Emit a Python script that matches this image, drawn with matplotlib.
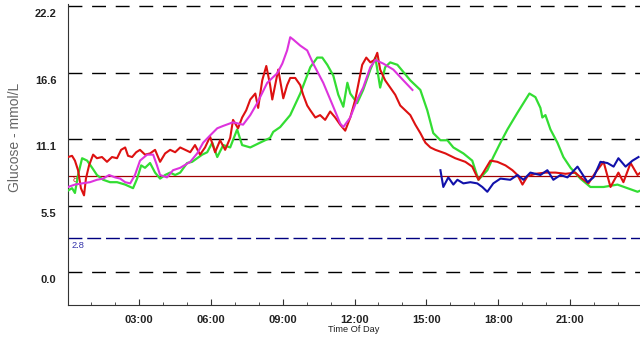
import matplotlib
matplotlib.use('Agg')
import matplotlib.pyplot as plt
import matplotlib.transforms as mtransforms
from matplotlib.ticker import MultipleLocator

plt.rcParams['font.family'] = ['Liberation Sans', 'DejaVu Sans']

# Datos (hora del día, glucosa mmol/L)
red_t = [0.02, 0.19, 0.31, 0.44, 0.56, 0.69, 0.77, 0.90, 1.07, 1.23, 1.44, 1.65, 1.86, 2.07,
         2.24, 2.41, 2.53, 2.70, 2.87, 3.03, 3.24, 3.45, 3.66, 3.87, 4.08, 4.29, 4.50, 4.71,
         4.92, 5.13, 5.33, 5.54, 5.75, 5.96, 6.17, 6.38, 6.59, 6.80, 6.92, 7.13, 7.30, 7.47,
         7.64, 7.85, 7.97, 8.14, 8.31, 8.47, 8.56, 8.72, 8.81, 9.02, 9.18, 9.31, 9.52, 9.73,
         9.85, 10.02, 10.15, 10.36, 10.56, 10.77, 10.98, 11.19, 11.40, 11.61, 11.82, 12.03,
         12.15, 12.32, 12.49, 12.66, 12.83, 12.95, 13.07, 13.28, 13.49, 13.70, 13.91, 14.12,
         14.33, 14.54, 14.75, 14.96, 15.17, 15.38, 15.80, 16.21, 16.63, 16.92, 17.18, 17.38,
         17.68, 17.97, 18.31, 18.60, 18.81, 19.02, 19.23, 19.56, 19.98, 20.40, 20.82, 21.23,
         21.44, 21.78, 22.07, 22.41, 22.70, 23.03, 23.24, 23.54, 23.83, 23.95]
red_v = [9.6, 9.7, 9.3, 8.5, 7.0, 6.4, 7.8, 8.9, 9.8, 9.5, 9.6, 9.2, 9.6, 9.5,
         10.2, 10.4, 9.7, 9.6, 10.0, 10.2, 9.8, 9.9, 10.2, 9.2, 9.9, 10.2, 10.0, 10.4,
         10.2, 10.0, 10.6, 9.8, 10.4, 11.3, 10.0, 11.0, 10.2, 11.2, 12.7, 12.0, 12.9, 13.5,
         14.4, 14.9, 13.7, 16.0, 17.2, 15.6, 14.4, 16.0, 16.9, 14.5, 15.6, 16.2, 16.2, 15.6,
         14.8, 13.9, 13.5, 12.9, 13.1, 12.7, 13.4, 12.9, 12.3, 11.8, 12.9, 14.4,
         15.6, 17.3, 17.9, 17.5, 17.7, 18.3, 16.9, 16.0, 15.4, 14.8, 13.9, 13.5,
         13.1, 12.3, 11.6, 10.8, 10.4, 10.2, 9.9, 9.5, 9.2, 8.8, 7.7, 8.3,
         9.3, 9.2, 8.9, 8.5, 8.1, 7.3, 8.0, 8.2, 8.3, 8.3, 8.2, 8.3,
         7.9, 7.4, 8.3, 9.2, 7.1, 8.3, 7.5, 9.1, 8.1, 8.3]

green_t = [0.02, 0.19, 0.31, 0.44, 0.61, 0.82, 1.03, 1.23, 1.49, 1.78, 2.07, 2.41, 2.74, 2.91,
           3.08, 3.24, 3.45, 3.66, 3.87, 4.08, 4.29, 4.50, 4.71, 5.00, 5.21, 5.42, 5.63, 5.84,
           6.05, 6.26, 6.51, 6.80, 7.09, 7.30, 7.64, 8.05, 8.47, 8.60, 8.89, 9.31, 9.73, 10.15,
           10.44, 10.65, 10.86, 11.11, 11.32, 11.53, 11.70, 11.82, 12.11, 12.36, 12.66, 12.87,
           13.07, 13.28, 13.49, 13.79, 14.04, 14.33, 14.75, 15.04, 15.29, 15.59, 15.88, 16.13,
           16.55, 16.92, 17.18, 17.55, 17.80, 18.10, 18.39, 18.81, 19.06, 19.31, 19.56, 19.77,
           19.85, 19.98, 20.19, 20.48, 20.73, 21.03, 21.44, 21.86, 22.41, 22.99, 23.41, 23.83, 23.95]
green_v = [6.8, 7.0, 6.6, 8.1, 9.5, 9.3, 8.7, 8.1, 7.7, 7.5, 7.5, 7.3, 7.0, 7.8,
           8.9, 8.7, 9.1, 8.3, 7.8, 8.1, 8.3, 8.1, 8.3, 9.1, 9.2, 9.5, 9.8, 10.0,
           10.8, 9.6, 10.6, 10.4, 11.9, 10.6, 10.4, 10.8, 11.2, 11.7, 12.1, 13.1, 14.9, 17.1,
           17.9, 17.9, 17.3, 16.4, 14.8, 13.8, 15.8, 14.9, 14.1, 15.2, 16.9, 17.9,
           15.4, 17.1, 17.5, 17.3, 16.7, 16.0, 15.2, 13.5, 11.6, 11.0, 11.0, 10.4,
           9.9, 9.3, 7.7, 8.5, 9.6, 10.8, 11.9, 13.3, 14.1, 14.9, 14.6, 13.7,
           12.9, 13.1, 11.9, 10.8, 9.6, 8.7, 7.8, 7.1, 7.1, 7.3, 7.0, 6.7, 6.8]

magenta_t = [0.02, 0.31, 0.61, 0.94, 1.23, 1.49, 1.74, 1.99, 2.20, 2.41, 2.62, 2.82, 3.03,
             3.33, 3.58, 3.74, 3.87, 4.16, 4.41, 4.71, 5.13, 5.42, 5.67, 5.96, 6.26, 6.51,
             6.92, 7.34, 7.64, 7.93, 8.35, 8.77, 8.98, 9.18, 9.31, 9.44, 9.73, 10.02, 10.27,
             10.69, 11.11, 11.40, 11.53, 11.82, 12.11, 12.36, 12.66, 12.87, 13.20, 13.62,
             14.04, 14.42]
magenta_v = [7.1, 7.3, 7.4, 7.5, 7.7, 7.8, 8.1, 7.9, 7.8, 7.5, 7.4, 8.1, 9.3,
             9.8, 9.8, 8.9, 8.1, 7.9, 8.5, 8.7, 9.2, 9.9, 10.8, 11.4, 12.0, 12.2,
             12.5, 12.3, 13.1, 14.1, 15.8, 16.6, 17.4, 18.5, 19.6, 19.4, 18.9, 18.5, 17.4,
             15.8, 13.8, 12.4, 12.1, 12.9, 14.4, 15.4, 17.1, 17.7, 17.4, 16.9,
             16.0, 15.2]

blue_t = [15.59, 15.71, 15.92, 16.13, 16.30, 16.55, 16.84, 17.13, 17.34, 17.55, 17.80, 18.10,
          18.51, 18.81, 19.06, 19.35, 19.77, 20.06, 20.31, 20.61, 20.90, 21.32, 21.74, 21.99,
          22.28, 22.57, 22.83, 23.03, 23.33, 23.62, 23.87]
blue_v = [8.5, 7.1, 7.9, 7.3, 7.7, 7.4, 7.5, 7.4, 7.1, 6.7, 7.4, 7.8,
          7.7, 8.1, 7.7, 8.3, 8.1, 8.5, 7.7, 8.1, 7.9, 8.8, 7.5, 7.9,
          9.2, 9.1, 8.8, 9.5, 8.8, 9.3, 9.6]

grid_levels = [0.0, 5.5, 11.1, 16.6, 22.2]
low_limit = 2.8
high_limit = 8.0
hour_ticks = [3, 6, 9, 12, 15, 18, 21]
hour_labels = ['03:00', '06:00', '09:00', '12:00', '15:00', '18:00', '21:00']

fig = plt.figure(figsize=(6.4, 3.37), dpi=100)
ax = fig.add_axes([0.1055, 0.095, 0.897, 0.893])

for lvl in grid_levels:
    ax.axhline(lvl, color='black', lw=1.0, dashes=(10, 7), zorder=1)
ax.axhline(low_limit, color='#000080', lw=1.0, dashes=(10, 3.5), zorder=1)
ax.axhline(high_limit, color='#a00000', lw=0.9, zorder=1)
ax.text(0.18, low_limit - 0.25, '2.8', color='#3333aa', fontsize=6.7, va='top', ha='left')
ax.text(0.2, high_limit - 0.25, '8', color='#cc2222', fontsize=6.5, va='center', ha='left', zorder=0.5)

ax.plot(green_t, green_v, color='#33dd33', lw=1.6, zorder=3)
ax.plot(red_t, red_v, color='#dd1111', lw=1.5, zorder=4)
ax.plot(magenta_t, magenta_v, color='#dd33dd', lw=1.5, zorder=5)
ax.plot(blue_t, blue_v, color='#1111aa', lw=1.5, zorder=6)

ax.set_xlim(0, 24)
ax.set_ylim(-2.75, 22.37)

for s in ['top', 'right']:
    ax.spines[s].set_visible(False)
ax.spines['left'].set_color('#333333')
ax.spines['bottom'].set_color('#333333')

ax.set_xticks(hour_ticks)
ax.set_xticklabels(hour_labels, fontsize=8, fontweight='bold', color='#222222')
ax.xaxis.set_minor_locator(MultipleLocator(1))
ax.tick_params(axis='x', which='major', direction='in', length=4, pad=7, color='#333333')
ax.tick_params(axis='x', which='minor', direction='in', length=2, color='#333333')

ax.set_yticks(grid_levels)
ax.set_yticklabels([f'{v:.1f}' for v in grid_levels], fontsize=8, fontweight='bold', color='#222222')
ax.tick_params(axis='y', length=0, pad=8)
offset = mtransforms.ScaledTranslation(0, -7 / 100, fig.dpi_scale_trans)
for lab in ax.get_yticklabels():
    lab.set_transform(lab.get_transform() + offset)

fig.text(15 / 640, 1 - 137.5 / 337, 'Glucose - mmol/L', rotation=90, fontsize=10,
         color='#666666', ha='center', va='center')
fig.text(354 / 640, 1 - 330 / 337, 'Time Of Day', fontsize=6.7, color='#222222',
         ha='center', va='center')

fig.savefig('out.png', dpi=100)
